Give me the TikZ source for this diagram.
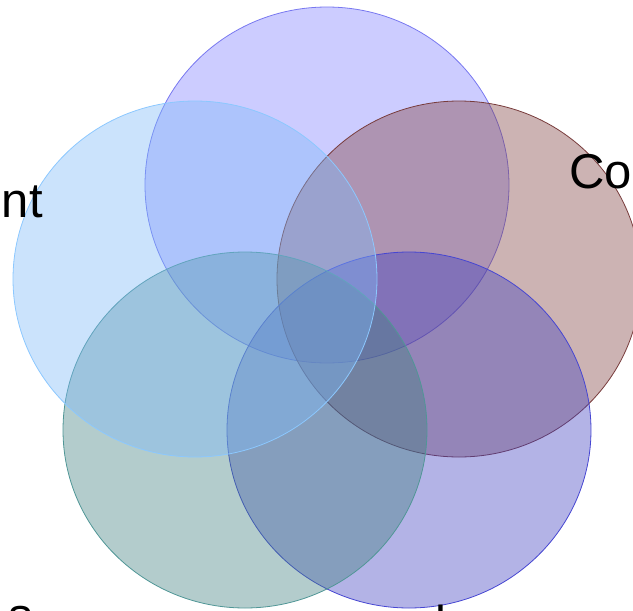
\documentclass[tikz,border=0pt]{standalone}
\usepackage{fontspec}
\setmainfont{Liberation Sans}
\usetikzlibrary{shapes.geometric}
\definecolor{cTop}{RGB}{128,128,255}
\definecolor{eTop}{RGB}{120,120,240}
\definecolor{cRight}{RGB}{128,64,64}
\definecolor{eRight}{RGB}{120,60,60}
\definecolor{cBR}{RGB}{64,64,192}
\definecolor{eBR}{RGB}{70,70,210}
\definecolor{cBL}{RGB}{64,128,128}
\definecolor{eBL}{RGB}{80,150,150}
\definecolor{cLeft}{RGB}{125,185,248}
\definecolor{eLeft}{RGB}{140,200,255}
\begin{document}
\begin{tikzpicture}[x=1pt,y=-1pt,
  venn/.style={ellipse,minimum width=364pt,minimum height=356pt,inner sep=0pt,fill opacity=0.4,line width=0.8pt},
  lbl/.style={font=\fontsize{49}{58}\selectfont,inner sep=0pt,text=black}]
\useasboundingbox (0,0) rectangle (633,611);
\clip (0,0) rectangle (633,611);
\node[venn,fill=cTop,draw=eTop] (top) at (327,185) {};
\node[venn,fill=cRight,draw=eRight] (right) at (459,279) {};
\node[venn,fill=cBR,draw=eBR] (br) at (409,430) {};
\node[venn,fill=cBL,draw=eBL] (bl) at (245,430) {};
\node[venn,fill=cLeft,draw=eLeft] (left) at (195,279) {};
\node[lbl,anchor=base east] (tleft) at (43,217) {nt};
\node[lbl,anchor=base west] (tright) at (569,188) {Co};
\node[lbl,anchor=base west] (tbl) at (8,632) {s};
\node[lbl,anchor=base west] (tbr) at (435,640) {l};
\end{tikzpicture}
\end{document}
